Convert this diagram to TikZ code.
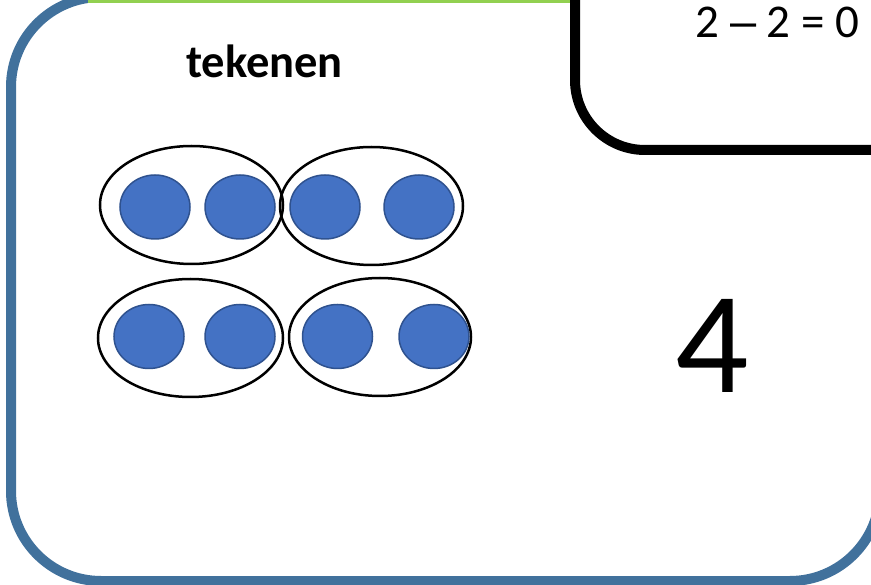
\documentclass[tikz,border=0pt]{standalone}
\usepackage{fontspec}
\setmainfont{Carlito}
\newfontfamily\dashfont{Liberation Sans}
\usetikzlibrary{shapes.geometric}
\definecolor{frameblue}{HTML}{41719C}
\definecolor{dotblue}{HTML}{4472C4}
\definecolor{dotedge}{HTML}{2F528F}
\definecolor{topgreen}{HTML}{92D050}
\tikzset{
  group/.style={ellipse, draw=black, line width=2.5pt, minimum width=183pt, minimum height=118pt, inner sep=0pt},
  dot/.style={ellipse, fill=dotblue, draw=dotedge, line width=1.5pt, minimum width=70pt, minimum height=64pt, inner sep=0pt},
}
\begin{document}
\begin{tikzpicture}[x=1pt,y=-1pt]
\useasboundingbox (0,0) rectangle (871,585);
\clip (0,0) rectangle (871,585);
\fill[white] (0,0) rectangle (871,585);
% main frame
\draw[frameblue, line width=10pt, rounded corners=90pt] (11,-3) rectangle (880,581);
% green top line
\draw[topgreen, line width=4pt] (88,1) -- (575,1);
% black box
\draw[black, fill=white, line width=10pt, rounded corners=70pt] (575,-100) rectangle (960,150);
\node[anchor=base, font=\fontsize{47}{56}\selectfont] (eq) at (777.5,38) {2 {\dashfont –} 2 = 0};
\node[anchor=base, font=\bfseries\fontsize{46.5}{54}\selectfont] (title) at (264.5,78) {tekenen};
\node[anchor=base, font=\fontsize{145}{170}\selectfont] (four) at (712,393) {4};
% groups
\node[group] (g1) at (191.5,205) {};
\node[group] (g2) at (371.5,206) {};
\node[group, minimum width=185pt] (g3) at (190.5,338) {};
\node[group, minimum width=182pt] (g4) at (380,337) {};
% dots
\node[dot] (d1) at (155,207) {};
\node[dot] (d2) at (240,207) {};
\node[dot] (d3) at (325,207) {};
\node[dot] (d4) at (419,207) {};
\node[dot] (d5) at (149,336.5) {};
\node[dot] (d6) at (240,336.5) {};
\node[dot] (d7) at (337.5,336.5) {};
\node[dot] (d8) at (434,336.5) {};
\end{tikzpicture}
\end{document}
